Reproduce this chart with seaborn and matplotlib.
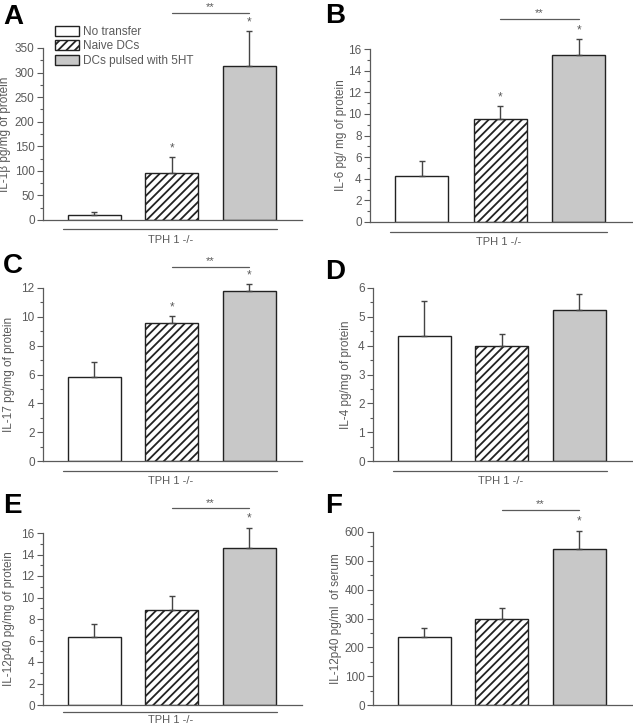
import matplotlib
matplotlib.use("Agg")
import matplotlib.pyplot as plt
import matplotlib.transforms as mtransforms
from matplotlib.patches import Patch
from matplotlib.ticker import MultipleLocator
import seaborn as sns

# --- data ---
groups = ["No transfer", "Naive DCs", "DCs pulsed with 5HT"]

il1b = [10, 95, 313]
il1b_err = [6, 33, 71]
il6 = [4.3, 9.55, 15.45]
il6_err = [1.3, 1.15, 1.45]
il17 = [5.8, 9.55, 11.8]
il17_err = [1.1, 0.5, 0.45]
il4 = [4.35, 4.0, 5.25]
il4_err = [1.2, 0.4, 0.55]
il12_tissue = [6.3, 8.85, 14.65]
il12_tissue_err = [1.2, 1.25, 1.85]
il12_serum = [235, 298, 540]
il12_serum_err = [33, 39, 65]

sns.set_style("ticks")
plt.rcParams["font.family"] = ["Liberation Sans", "DejaVu Sans"]
plt.rcParams["hatch.linewidth"] = 1.3

W, H = 633, 728
fig = plt.figure(figsize=(W / 100, H / 100), dpi=100)

grey_txt = "#5a5a5a"
fills = ["white", "white", "#c8c8c8"]
hatches = ["", "////", ""]


def px_axes(left, right, top, bottom):
    return fig.add_axes([left / W, 1 - bottom / H, (right - left) / W, (bottom - top) / H])


def panel(ax, vals, errs, ylabel, label_x, ymax, major, stars, bracket_y,
          tph=(-0.055, -0.085)):
    sns.barplot(x=groups, y=vals, hue=groups, palette=fills, width=0.68,
                edgecolor="#222222", linewidth=1, legend=False, ax=ax)
    for p, h in zip(ax.patches, hatches):
        p.set_hatch(h)
    ax.errorbar(range(3), vals, yerr=[[0, 0, 0], errs], fmt="none",
                ecolor="#444444", elinewidth=1, capsize=2.5, capthick=1, clip_on=False)
    ax.set_xlim(-0.66, 2.68)
    ax.set_ylim(0, ymax)
    ax.yaxis.set_major_locator(MultipleLocator(major))
    ax.yaxis.set_minor_locator(MultipleLocator(major / 2))
    ax.tick_params(axis="y", which="major", length=4, width=0.8, color=grey_txt,
                   labelsize=8.5, labelcolor=grey_txt, pad=2)
    ax.tick_params(axis="y", which="minor", length=2.5, width=0.8, color=grey_txt)
    ax.tick_params(axis="x", bottom=False, labelbottom=False)
    ax.set_xlabel("")
    ax.set_ylabel(ylabel, fontsize=8.5, color=grey_txt)
    ax.yaxis.set_label_coords(label_x, 0.5)
    for s in ["top", "right"]:
        ax.spines[s].set_visible(False)
    for s in ["left", "bottom"]:
        ax.spines[s].set_color(grey_txt)
        ax.spines[s].set_linewidth(0.9)
    for i in stars:
        ax.annotate("*", (i, vals[i] + errs[i]), xytext=(0, 2), textcoords="offset points",
                    ha="center", va="bottom", fontsize=8.5, color=grey_txt, annotation_clip=False)
    if bracket_y is not None:
        ax.plot([1, 2], [bracket_y, bracket_y], color=grey_txt, lw=0.9, clip_on=False)
        ax.annotate("**", (1.5, bracket_y), xytext=(0, 0.5), textcoords="offset points",
                    ha="center", va="bottom", fontsize=8, color=grey_txt, annotation_clip=False)
    if tph is not None:
        trans = mtransforms.blended_transform_factory(ax.transData, ax.transAxes)
        ax.plot([-0.4, 2.36], [tph[0], tph[0]], color=grey_txt, lw=0.9,
                transform=trans, clip_on=False)
        ax.text(0.98, tph[1], "TPH 1 -/-", transform=trans, ha="center", va="top",
                fontsize=8, color=grey_txt)


axA = px_axes(43, 302, 48, 220)
panel(axA, il1b, il1b_err, "IL-1\u03b2 pg/mg of protein", -0.125, 350, 50, [1, 2], 422)
axB = px_axes(370, 632, 49, 222)
panel(axB, il6, il6_err, "IL-6 pg/ mg of protein", -0.088, 16, 2, [1, 2], 18.8)
axC = px_axes(43, 302, 288, 461)
panel(axC, il17, il17_err, "IL-17 pg/mg of protein", -0.108, 12, 2, [1, 2], 13.45)
axD = px_axes(373, 632, 288, 461)
panel(axD, il4, il4_err, "IL-4 pg/mg of protein", -0.081, 6, 1, [], None)
axE = px_axes(43, 302, 533, 705)
panel(axE, il12_tissue, il12_tissue_err, "IL-12p40 pg/mg of protein", -0.108, 16, 2, [2], 18.3,
      tph=(-0.04, -0.058))
axF = px_axes(373, 632, 532, 705)
panel(axF, il12_serum, il12_serum_err, "IL-12p40 pg/ml  of serum", -0.12, 600, 100, [2], 676,
      tph=None)

# legend in panel A
handles = [Patch(facecolor=f, edgecolor="#222222", hatch=h, linewidth=1)
           for f, h in zip(fills, hatches)]
fig.legend(handles, groups, loc="upper left", bbox_to_anchor=(55 / W, 1 - 26 / H),
           frameon=False, fontsize=8.5, labelcolor=grey_txt, handlelength=2.0,
           handleheight=0.9, handletextpad=0.4, labelspacing=0.2, borderpad=0,
           borderaxespad=0)

# panel letters
for letter, x, y in [("A", 3, 4), ("B", 325, 3), ("C", 3, 253),
                     ("D", 325, 259), ("E", 3, 493), ("F", 325, 493)]:
    fig.text(x / W, 1 - y / H, letter, fontsize=20, fontweight="bold",
             ha="left", va="top", color="black")

fig.savefig("out.png", dpi=100)
